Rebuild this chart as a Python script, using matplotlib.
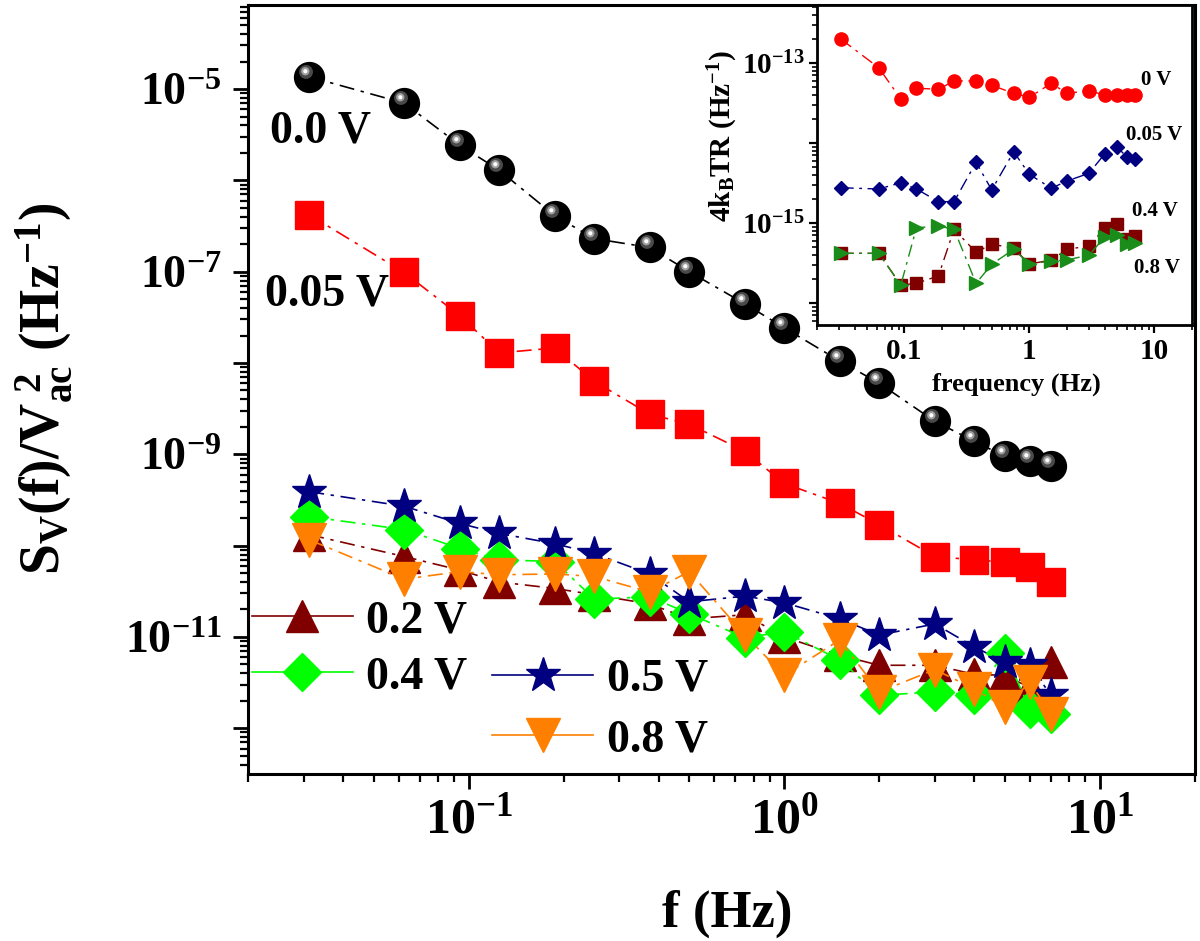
import matplotlib.pyplot as plt
from matplotlib.lines import Line2D
from matplotlib.markers import MarkerStyle
from matplotlib.transforms import Affine2D
from matplotlib.ticker import FixedLocator, LogLocator, NullFormatter

plt.rcParams['font.family'] = ['Liberation Serif', 'DejaVu Serif']
plt.rcParams['font.weight'] = 'bold'
plt.rcParams['mathtext.fontset'] = 'custom'
plt.rcParams['mathtext.rm'] = 'Liberation Serif:bold'
plt.rcParams['mathtext.bf'] = 'Liberation Serif:bold'
plt.rcParams['mathtext.it'] = 'Liberation Serif:italic:bold'

# frequencies (Hz)
freq = [0.03125, 0.0625, 0.09375, 0.125, 0.1875, 0.25, 0.375, 0.5, 0.75,
        1, 1.5, 2, 3, 4, 5, 6, 7]

# main panel: Sv(f)/Vac^2 for each bias
sv_00 = [1.36e-5, 7.0e-6, 2.43e-6, 1.29e-6, 4.1e-7, 2.3e-7, 1.84e-7, 1.0e-7, 4.45e-8,
         2.43e-8, 1.05e-8, 6.0e-9, 2.3e-9, 1.39e-9, 9.5e-10, 8.4e-10, 7.4e-10]
sv_005 = [4.2e-7, 9.8e-8, 3.3e-8, 1.29e-8, 1.46e-8, 6.3e-9, 2.75e-9, 2.14e-9, 1.08e-9,
          4.8e-10, 2.9e-10, 1.7e-10, 7.6e-11, 7.0e-11, 6.6e-11, 5.9e-11, 4.0e-11]
sv_02 = [1.32e-10, 7.6e-11, 5.4e-11, 4.0e-11, 3.4e-11, 2.9e-11, 2.3e-11, 1.58e-11, 1.75e-11,
         1.0e-11, 6.3e-12, 4.9e-12, 4.9e-12, 3.9e-12, 3.8e-12, 2.8e-12, 5.3e-12]
sv_04 = [2.08e-10, 1.5e-10, 9.3e-11, 7.0e-11, 6.7e-11, 2.6e-11, 2.75e-11, 1.8e-11, 9.8e-12,
         1.14e-11, 5.6e-12, 2.3e-12, 2.5e-12, 2.3e-12, 6.7e-12, 1.62e-12, 1.43e-12]
sv_05 = [3.9e-10, 2.7e-10, 1.75e-10, 1.36e-10, 1.05e-10, 8.2e-11, 4.9e-11, 2.43e-11, 2.8e-11,
         2.37e-11, 1.58e-11, 1.05e-11, 1.39e-11, 7.8e-12, 5.3e-12, 4.9e-12, 2.3e-12]
sv_08 = [1.16e-10, 4.3e-11, 5.2e-11, 4.8e-11, 4.9e-11, 4.6e-11, 3.1e-11, 5.2e-11, 1.05e-11,
         3.8e-12, 9.3e-12, 2.5e-12, 4.4e-12, 2.7e-12, 1.7e-12, 3.2e-12, 1.43e-12]

# inset: 4kBTR
th_0 = [1.98e-13, 8.7e-14, 3.55e-14, 4.83e-14, 4.7e-14, 5.96e-14, 5.96e-14, 5.26e-14, 4.18e-14,
        3.73e-14, 5.57e-14, 4.18e-14, 4.5e-14, 3.98e-14, 3.98e-14, 3.98e-14, 3.98e-14]
th_005 = [2.76e-15, 2.66e-15, 3.19e-15, 2.66e-15, 1.85e-15, 1.85e-15, 5.74e-15, 2.59e-15, 7.78e-15,
          4.06e-15, 2.72e-15, 3.35e-15, 4.18e-15, 7.29e-15, 9.0e-15, 6.74e-15, 6.3e-15]
th_04 = [4.18e-16, 4.18e-16, 1.68e-16, 1.76e-16, 2.18e-16, 8.34e-16, 4.3e-16, 5.46e-16, 4.83e-16,
         3.07e-16, 3.45e-16, 4.69e-16, 5.16e-16, 8.59e-16, 9.63e-16, 6.25e-16, 6.93e-16]
th_08 = [4.18e-16, 4.18e-16, 1.68e-16, 8.73e-16, 9.17e-16, 8.34e-16, 1.76e-16, 3.05e-16, 4.69e-16,
         3.07e-16, 3.35e-16, 3.45e-16, 3.98e-16, 6.62e-16, 7.08e-16, 5.42e-16, 5.67e-16]

fig = plt.figure(figsize=(12, 9.41), dpi=100)
ax = fig.add_axes([0.2067, 0.1775, 0.789, 0.8172])

dd = (0, (9, 4, 2, 4))
ax.plot(freq, sv_00, ls=dd, lw=1.2, color='black', marker='o', ms=21.5, mec='black', mfc='black')
# shiny highlight on the balls
ax.plot(freq, sv_00, ls='none', marker=MarkerStyle('o', transform=Affine2D().translate(-0.25, 0.4)),
        ms=10, mfc='#4a4a4a', mec='none')
ax.plot(freq, sv_00, ls='none', marker=MarkerStyle('o', transform=Affine2D().translate(-0.5, 0.75)),
        ms=6, mfc='#a0a0a0', mec='none')
ax.plot(freq, sv_00, ls='none', marker=MarkerStyle('o', transform=Affine2D().translate(-1.0, 1.5)),
        ms=3, mfc='white', mec='none')
ax.plot(freq, sv_005, ls=dd, lw=1.2, color='#ff0000', marker='s', ms=19.5)
ax.plot(freq, sv_02, ls=dd, lw=1.2, color='#800000', marker='^', ms=23)
ax.plot(freq, sv_04, ls=dd, lw=1.2, color='#00ff00', marker='D', ms=19)
ax.plot(freq, sv_05, ls=dd, lw=1.2, color='#000080', marker='*', ms=26)
ax.plot(freq, sv_08, ls=dd, lw=1.2, color='#ff8000', marker='v', ms=24)

ax.set_xscale('log')
ax.set_yscale('log')
ax.set_xlim(0.02, 20)
ax.set_ylim(10**-12.5, 10**-4.08)

ax.xaxis.set_major_locator(FixedLocator([0.1, 1, 10]))
ax.set_xticklabels([r'$\mathbf{10^{-1}}$', r'$\mathbf{10^{0}}$', r'$\mathbf{10^{1}}$'])
ax.xaxis.set_minor_locator(LogLocator(base=10, subs=range(2, 10), numticks=20))
ax.xaxis.set_minor_formatter(NullFormatter())
ydec = [1e-12, 1e-11, 1e-10, 1e-9, 1e-8, 1e-7, 1e-6, 1e-5]
ax.yaxis.set_major_locator(FixedLocator(ydec))
ax.set_yticklabels(['', r'$\mathbf{10^{-11}}$', '', r'$\mathbf{10^{-9}}$', '',
                    r'$\mathbf{10^{-7}}$', '', r'$\mathbf{10^{-5}}$'])
ax.yaxis.set_minor_locator(LogLocator(base=10, subs=range(2, 10), numticks=30))
ax.yaxis.set_minor_formatter(NullFormatter())
ax.tick_params(axis='x', which='major', direction='out', length=11, width=2, labelsize=36, pad=6)
ax.tick_params(axis='y', which='major', direction='out', length=11, width=2, labelsize=33, pad=8)
ax.tick_params(which='minor', direction='out', length=6, width=1.6)
for s in ax.spines.values():
    s.set_linewidth(2.2)

ax.set_xlabel('f (Hz)', fontsize=38, fontweight='bold')
ax.xaxis.set_label_coords(0.506, -0.151)
ax.set_ylabel(r'$\mathbf{S_V(f)/V_{ac}^{\ 2}\ (Hz^{-1})}$', fontsize=40)
ax.yaxis.set_label_coords(-0.183, 0.5)

ax.text(0.077, 0.836, '0.0 V', transform=ax.transAxes, fontsize=33, fontweight='bold',
        ha='center', va='center')
ax.text(0.083, 0.624, '0.05 V', transform=ax.transAxes, fontsize=33, fontweight='bold',
        ha='center', va='center')

h02 = Line2D([], [], color='#800000', lw=1.2, marker='^', ms=23)
h04 = Line2D([], [], color='#00ff00', lw=1.2, marker='D', ms=19)
h05 = Line2D([], [], color='#000080', lw=1.2, marker='*', ms=26)
h08 = Line2D([], [], color='#ff8000', lw=1.2, marker='v', ms=24)
leg1 = ax.legend([h02, h04], ['0.2 V', '0.4 V'], loc='upper left', bbox_to_anchor=(0.004, 0.226),
                 frameon=False, borderpad=0, borderaxespad=0, handlelength=2.2,
                 handletextpad=0.3, labelspacing=0.3, prop={'size': 33, 'weight': 'bold'})
ax.add_artist(leg1)
ax.legend([h05, h08], ['0.5 V', '0.8 V'], loc='upper left', bbox_to_anchor=(0.258, 0.15),
          frameon=False, borderpad=0, borderaxespad=0, handlelength=2.2,
          handletextpad=0.3, labelspacing=0.4, prop={'size': 33, 'weight': 'bold'})

# inset
ins = fig.add_axes([0.6808, 0.6546, 0.3125, 0.3401])
ins.plot(freq, th_0, ls=dd, lw=1.0, color='#ff0000', marker='o', ms=9.5)
ins.plot(freq, th_005, ls=dd, lw=1.0, color='#000080', marker='D', ms=7.5)
ins.plot(freq, th_04, ls=dd, lw=1.0, color='#800000', marker='s', ms=8)
ins.plot(freq, th_08, ls=dd, lw=1.0, color='#1a8c1a', marker='>', ms=10)
ins.set_xscale('log')
ins.set_yscale('log')
ins.set_xlim(0.02, 20)
ins.set_ylim(10**-16.275, 10**-12.275)
ins.xaxis.set_major_locator(FixedLocator([0.1, 1, 10]))
ins.set_xticklabels(['0.1', '1', '10'])
ins.xaxis.set_minor_locator(LogLocator(base=10, subs=range(2, 10), numticks=20))
ins.xaxis.set_minor_formatter(NullFormatter())
ins.yaxis.set_major_locator(FixedLocator([1e-16, 1e-15, 1e-14, 1e-13]))
ins.set_yticklabels(['', r'$\mathbf{10^{-15}}$', '', r'$\mathbf{10^{-13}}$'])
ins.yaxis.set_minor_locator(LogLocator(base=10, subs=range(2, 10), numticks=30))
ins.yaxis.set_minor_formatter(NullFormatter())
ins.tick_params(which='major', direction='out', length=6, width=1.6, labelsize=21, pad=3)
ins.tick_params(which='minor', direction='out', length=3.5, width=1.2)
for s in ins.spines.values():
    s.set_linewidth(2)
ins.set_xlabel('frequency (Hz)', fontsize=19, fontweight='bold')
ins.xaxis.set_label_coords(0.533, -0.15)
ins.set_ylabel(r'$\mathbf{4k_B TR\ (Hz^{-1})}$', fontsize=21)
ins.yaxis.set_label_coords(-0.205, 0.59)
for lab, xx, yy in [('0 V', 0.904, 0.766), ('0.05 V', 0.899, 0.594),
                    ('0.4 V', 0.901, 0.356), ('0.8 V', 0.907, 0.178)]:
    ins.text(xx, yy, lab, transform=ins.transAxes, fontsize=15, fontweight='bold',
             ha='center', va='center')

plt.savefig('out.png', dpi=100)
plt.close()
